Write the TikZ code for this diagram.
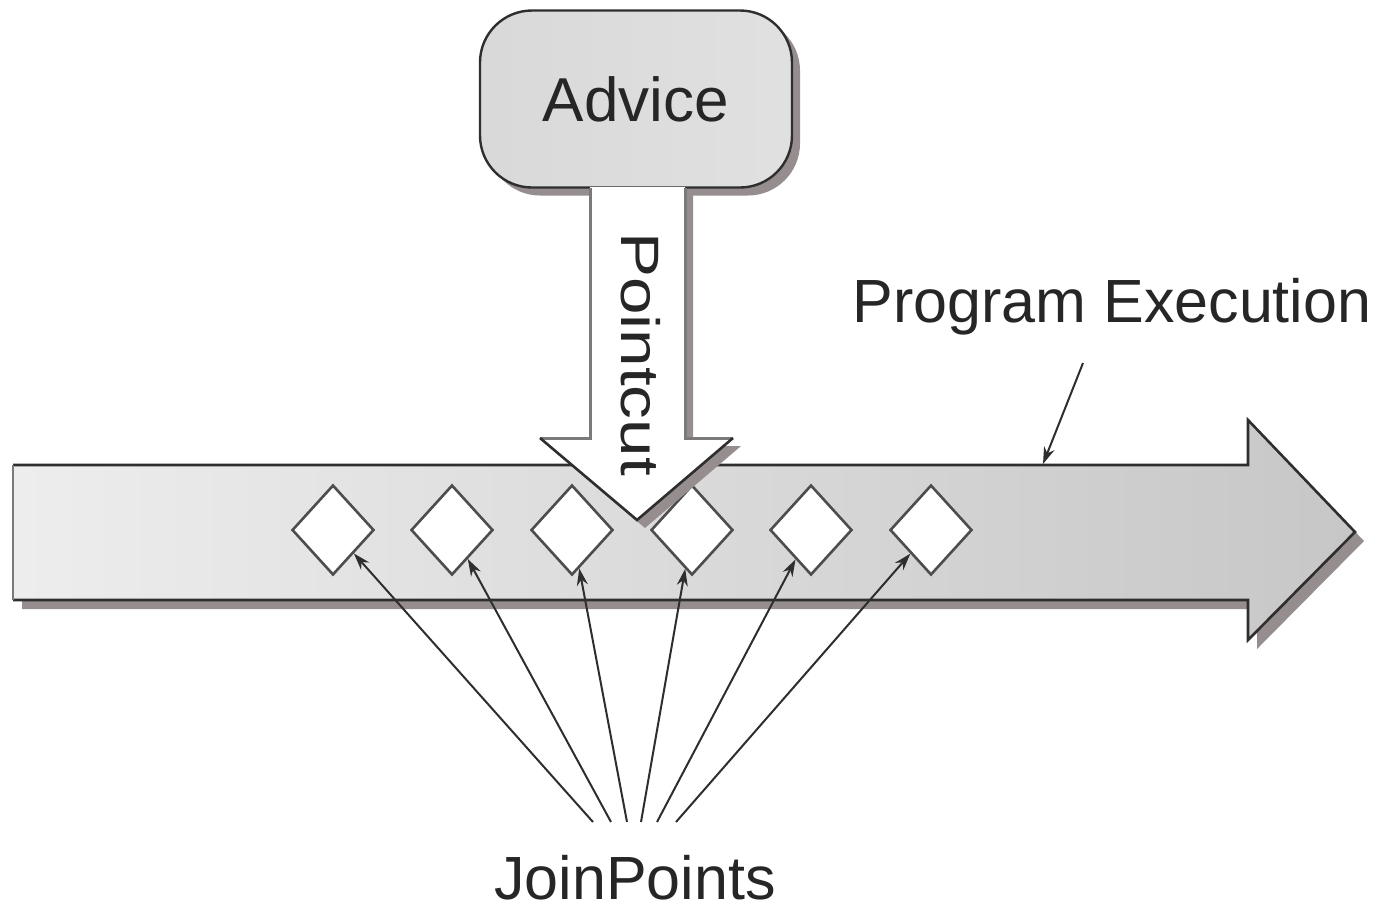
\documentclass[tikz,border=0pt]{standalone}
\usepackage{fontspec}
\setmainfont{Liberation Sans}
\usetikzlibrary{shapes.geometric,arrows.meta,shadows}
\definecolor{edge}{HTML}{2E2E2E}
\definecolor{softedge}{HTML}{7A7A7A}
\definecolor{shadowgray}{HTML}{968E8E}
\tikzset{
  dropgray/.style={drop shadow={shadow xshift=#1, shadow yshift=-#1, fill=shadowgray, opacity=1}},
  txt/.style={inner sep=0pt, text=black!85},
  joinpt/.style={diamond, draw=edge!85, line width=1.3pt, fill=white,
    minimum width=41pt, minimum height=45pt, inner sep=0pt},
  lead/.style={draw=edge, line width=1pt, -{Stealth[length=8.5pt,width=5.5pt]}},
  advicebox/.style={rectangle, rounded corners=26pt, draw=edge, line width=1.2pt,
    left color=gray!30, middle color=gray!4, right color=gray!24,
    minimum width=156pt, minimum height=88.5pt, inner sep=0pt,
    font=\fontsize{31}{36}\selectfont, text=black!85},
}
\begin{document}
\begin{tikzpicture}[x=0.5pt,y=-0.5pt]
\useasboundingbox (0,0) rectangle (1377,912);

% program execution flow arrow
\path[dropgray=4.5pt, left color=gray!14, right color=gray!44]
  (13,465) -- (1248,465) -- (1248,420) -- (1355,532) -- (1248,640)
  -- (1248,600) -- (13,600) -- cycle;
\draw[edge, line width=1.3pt, line join=miter]
  (13,465) -- (1248,465) -- (1248,420) -- (1355,532) -- (1248,640)
  -- (1248,600) -- (13,600);
\draw[softedge, line width=1.3pt] (13,465) -- (13,600);
\coordinate (flowtop) at (1043,464);

% join points on the flow
\foreach \i/\x in {1/333,2/452,3/572,4/692,5/811,6/931}
  \node[joinpt] (jp\i) at (\x,530) {};

% advice box
\node[advicebox, dropgray=4pt] (advice) at (636,99) {Advice};

% pointcut arrow
\path[dropgray=4pt, fill=white]
  (590,187) -- (590,438) -- (540,438) -- (637,520) -- (733,438)
  -- (685,438) -- (685,187) -- cycle;
\draw[softedge, line width=1.5pt] (590,188) -- (590,438) -- (540,438);
\draw[softedge, line width=1.5pt] (685,188) -- (685,438) -- (733,438);
\draw[edge, line width=1.3pt, line join=miter] (540,438) -- (637,520) -- (733,438);
\node[txt, rotate=-90, font=\fontsize{27}{32}\selectfont] (pointcut) at (641,354)
  {\scalebox{1.25}[1]{Pointcut}};

% labels
\node[txt, anchor=base, font=\fontsize{30.5}{36}\selectfont] (progexec) at (1112,322) {Program Execution};
\node[txt, anchor=base, font=\fontsize{30.5}{36}\selectfont] (joinlabel) at (635,899) {JoinPoints};

\coordinate (pefrom) at (1083,363);
\draw[lead] (pefrom) -- (flowtop);

% leaders from the JoinPoints label to each join point
\foreach \i/\x in {1/593,2/611,3/627,4/641,5/657,6/676}{
  \coordinate (s\i) at (\x,822);
  \draw[lead] (s\i) -- (jp\i);
}
\end{tikzpicture}
\end{document}
